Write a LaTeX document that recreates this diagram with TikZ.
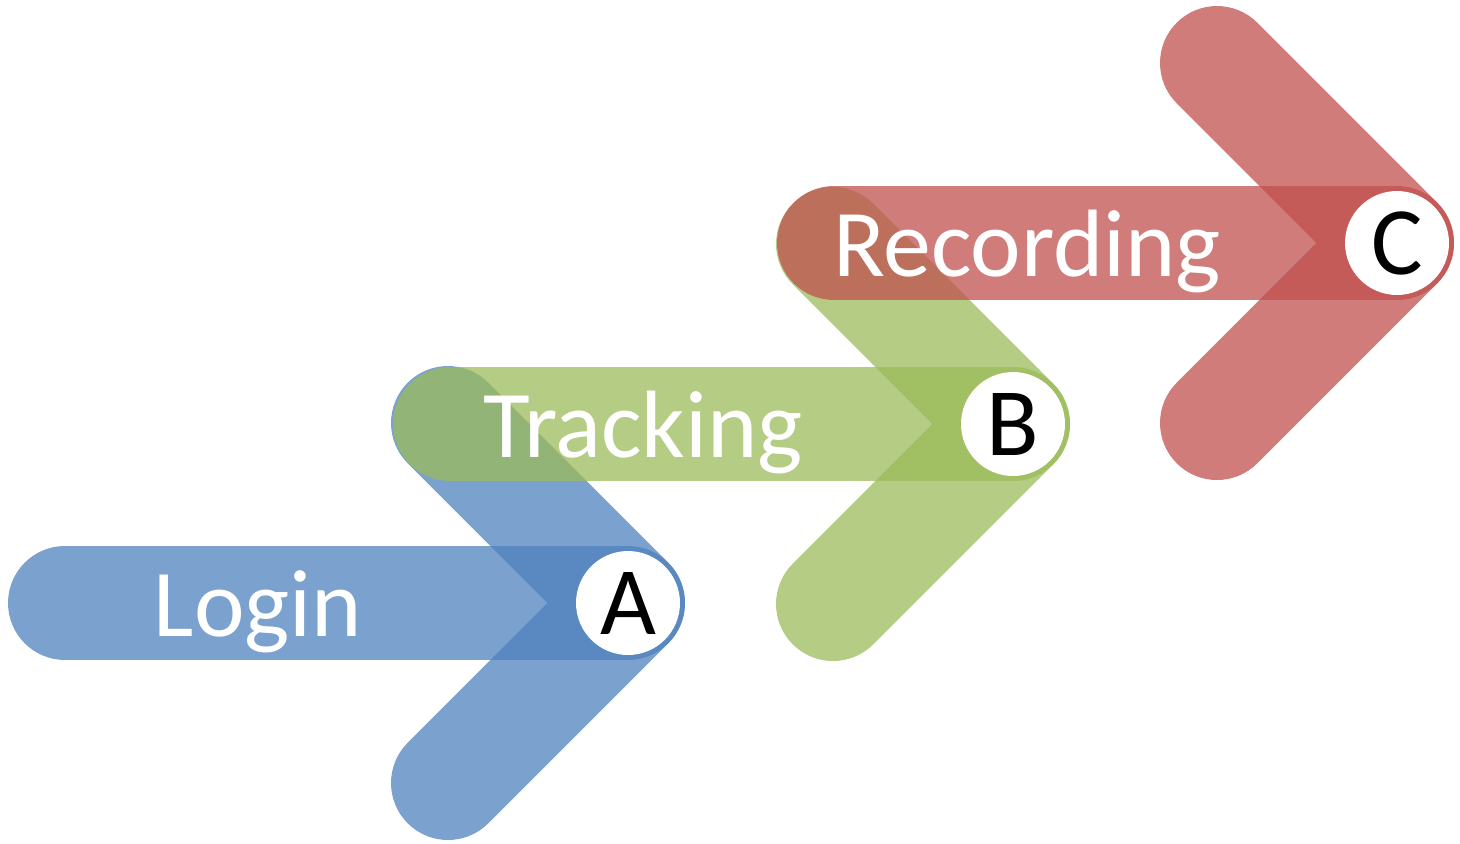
\documentclass[tikz,border=0pt]{standalone}
\usepackage{fontspec}
\setmainfont{Carlito}
\usepackage{tikz}
\definecolor{loginblue}{HTML}{4F81BD}
\definecolor{trackgreen}{HTML}{9BBB59}
\definecolor{recordred}{HTML}{C0504D}

\begin{document}
\begin{tikzpicture}[x=0.02cm,y=-0.02cm]
              \tikzstyle{band} = [line width=2.28cm, line cap=round, line join=round, draw opacity=0.75];
              \tikzstyle{badge} = [circle, fill=white, inner sep=0pt, minimum size=2.08cm, font=\fontsize{55}{60}\selectfont];
              \tikzstyle{step label} = [anchor=base, text=white, font=\fontsize{54.5}{60}\selectfont];
              \useasboundingbox (0,0) rectangle (1460,843);
              % one arrow per step: bar + chevron, badge on the tip
              \foreach \n/\c/\x/\y/\t in {A/loginblue/628/603/Login,
                                          B/trackgreen/1013/424/Tracking,
                                          C/recordred/1397/243/Recording}{
                \coordinate (tip\n) at (\x,\y);
                \coordinate (tail\n) at (\x-563,\y);
                \coordinate (up\n) at (\x-180,\y-180);
                \coordinate (down\n) at (\x-180,\y+180);
                \draw[band, draw=\c] (tail\n) -- (tip\n);
                \draw[band, draw=\c] (up\n) -- (tip\n) -- (down\n);
                \node[badge] (\n) at (tip\n) {\n};
                \node[step label] (label\n) at (\x-370,\y+33) {\t};
              }
            \end{tikzpicture}
\end{document}
